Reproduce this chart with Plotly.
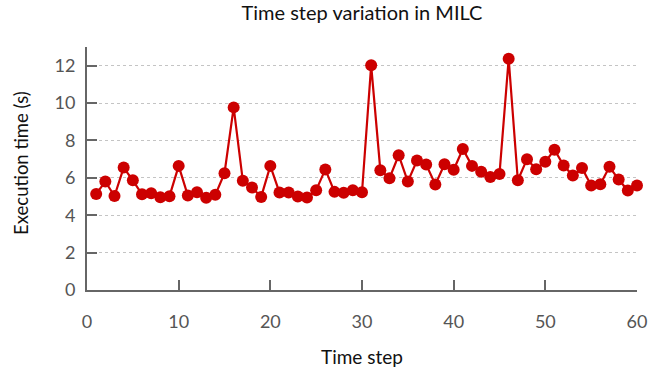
import plotly.graph_objects as go

time_step = list(range(1, 61))
exec_time = [5.14, 5.80, 5.03, 6.55, 5.87, 5.12, 5.18, 4.96, 5.02, 6.64,
             5.05, 5.23, 4.93, 5.09, 6.25, 9.77, 5.84, 5.48, 4.98, 6.64,
             5.21, 5.21, 5.00, 4.95, 5.34, 6.45, 5.25, 5.20, 5.34, 5.23,
             12.02, 6.41, 5.98, 7.21, 5.80, 6.93, 6.71, 5.64, 6.73, 6.43,
             7.54, 6.64, 6.32, 6.05, 6.21, 12.37, 5.87, 7.00, 6.46, 6.86,
             7.50, 6.66, 6.12, 6.53, 5.59, 5.66, 6.59, 5.91, 5.32, 5.59]

x_ticks = [0, 10, 20, 30, 40, 50, 60]
y_ticks = [0, 2, 4, 6, 8, 10, 12]

red = "#cc0000"
font = "Lato, 'Open Sans', sans-serif"

fig = go.Figure(go.Scatter(
    x=time_step, y=exec_time, mode="lines+markers",
    line=dict(color=red, width=2.2),
    marker=dict(color=red, size=12),
    cliponaxis=False,
))

fig.update_layout(
    width=665, height=373,
    margin=dict(l=87, r=28, t=47, b=83, autoexpand=False),
    paper_bgcolor="white", plot_bgcolor="white",
    showlegend=False,
    title=dict(text="Time step variation in MILC", x=0.5, xanchor="center",
               xref="paper", y=0.965, yanchor="middle",
               font=dict(family=font, size=20, color="#111")),
    font=dict(family=font),
    annotations=[
        dict(text="Time step", xref="paper", yref="paper", x=0.5, y=0,
             xanchor="center", yanchor="middle", yshift=-66, showarrow=False,
             font=dict(family=font, size=19, color="#111")),
        dict(text="Execution time (s)", xref="paper", yref="paper", x=0, y=0.523,
             xanchor="center", yanchor="middle", xshift=-66, textangle=-90,
             showarrow=False, font=dict(family=font, size=18.5, color="#111")),
    ],
)
fig.update_xaxes(
    range=[0, 60], tickvals=x_ticks, ticks="inside", ticklen=10, tickwidth=2,
    tickcolor="#666", showline=True, linecolor="#666", linewidth=2,
    showgrid=False, zeroline=False, automargin=False, ticklabelstandoff=14,
    tickfont=dict(family=font, size=18, color="#555"),
)
fig.update_yaxes(
    range=[0, 13], tickvals=y_ticks, ticks="inside", ticklen=10, tickwidth=2,
    tickcolor="#666", showline=True, linecolor="#666", linewidth=2,
    showgrid=True, gridcolor="#c4c4c4", griddash="dot", gridwidth=1.2,
    zeroline=False, automargin=False, ticklabelstandoff=6,
    tickfont=dict(family=font, size=18, color="#555"),
)

fig.write_html("out.html", config={"displayModeBar": False},
               post_script="document.body.style.margin='0';document.body.style.overflow='hidden';")
